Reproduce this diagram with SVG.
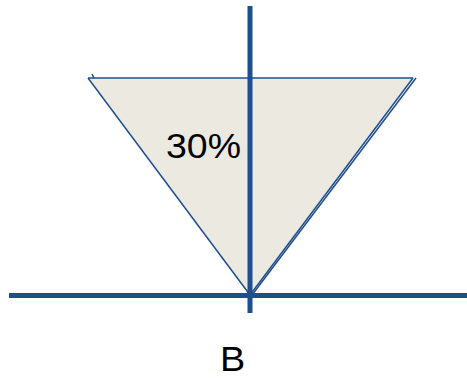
<svg xmlns="http://www.w3.org/2000/svg" width="467" height="378" viewBox="0 0 467 378">
<style>
.edge{stroke:#1F4E8C;stroke-width:1.5;fill:none}
.axis{stroke:#1F4E8C;stroke-width:5;fill:none}
.lbl{font-family:"Liberation Sans",Arial,sans-serif;fill:#000;font-size:35px}
</style>
<g id="triangle">
<polygon points="88,78 413,78 250,295" fill="#ECE9E0" stroke="none"/>
<line class="edge" x1="88" y1="78" x2="413" y2="78"/>
<line class="edge" x1="88" y1="78" x2="250" y2="295"/>
<line class="edge" x1="92" y1="74" x2="94" y2="78"/>
<line class="edge" x1="413" y1="78" x2="250" y2="295"/>
<line class="edge" x1="416" y1="78" x2="252" y2="295"/>
</g>
<g id="connectors">
<line class="axis" x1="9" y1="295.5" x2="467" y2="295.5"/>
<line class="axis" x1="250" y1="6" x2="250" y2="313"/>
</g>
<g id="label-30">
<text class="lbl" x="0" y="0" transform="translate(166,157.5) scale(1.07,1)">30%</text>
</g>
<g id="label-B">
<text class="lbl" x="0" y="0" transform="translate(220,371) scale(1.08,1)">B</text>
</g>
</svg>
